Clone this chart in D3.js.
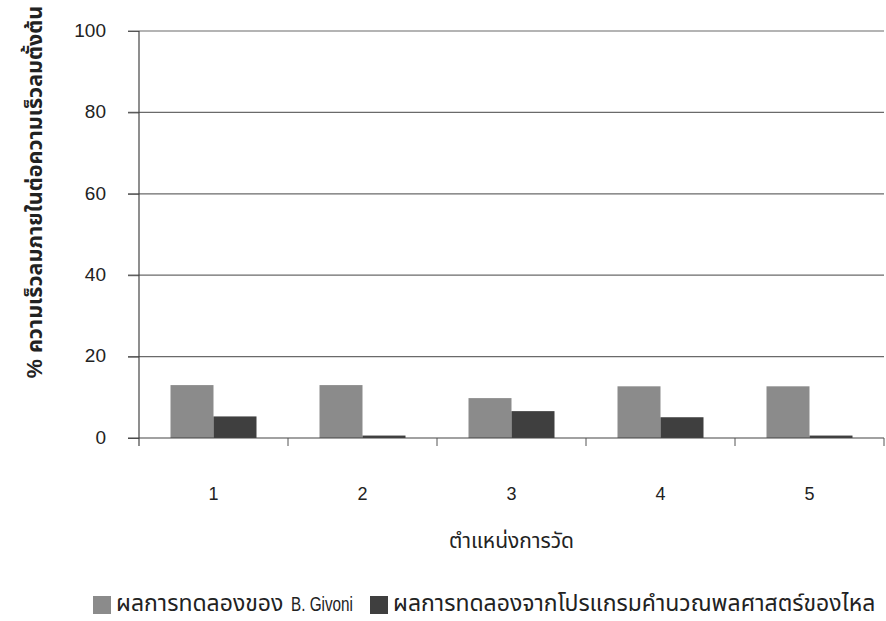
<!DOCTYPE html>
<html>
<head>
<meta charset="utf-8">
<script src="https://cdn.jsdelivr.net/npm/d3@7"></script>
<style>
  html, body { margin: 0; padding: 0; background: #fff; }
  svg { display: block; font-family: "Liberation Sans", Arial, "Noto Sans Thai", "Noto Sans", sans-serif; }
</style>
</head>
<body>
<svg id="chart" width="886" height="621"></svg>
<script>
// Measurement positions along the x axis
const positions = ["1", "2", "3", "4", "5"];
// Series names (legend): Thai part and Latin part of each label
const seriesNames = [
  ["ผลการทดลองของ", "B. Givoni"],
  ["ผลการทดลองจากโปรแกรมคำนวณพลศาสตร์ของไหล", ""]
];
// % indoor wind speed relative to initial wind speed
const givoni = [13, 13, 9.8, 12.7, 12.7];
const cfd = [5.3, 0.6, 6.6, 5.1, 0.6];
const yTicks = [0, 20, 40, 60, 80, 100];
const colors = ["#8b8b8b", "#3f3f3f"];

const svg = d3.select("#chart");
const margin = { left: 139, right: 2, top: 31, bottom: 183 };
const W = 886, H = 621;
const innerW = W - margin.left - margin.right;
const innerH = H - margin.top - margin.bottom;

const g = svg.append("g").attr("transform", `translate(${margin.left},${margin.top})`);

const x = d3.scaleBand().domain(positions).range([0, innerW]);
const groupW = 86;
const xs = d3.scaleBand().domain([0, 1]).range([0, groupW]);
const y = d3.scaleLinear().domain([0, 100]).range([innerH, 0]);

// horizontal gridlines
g.append("g").selectAll("line").data(yTicks.filter(d => d > 0)).join("line")
  .attr("x1", -11).attr("x2", innerW)
  .attr("y1", d => y(d)).attr("y2", d => y(d))
  .attr("stroke", "#6a6a6a").attr("stroke-width", 1.2);

// bars
const rows = positions.map((p, i) => ({ p, vals: [givoni[i], cfd[i]] }));
const grp = g.append("g").selectAll("g").data(rows).join("g")
  .attr("transform", d => `translate(${x(d.p) + (x.bandwidth() - groupW) / 2},0)`);
grp.selectAll("rect").data(d => d.vals.map((v, k) => ({ v, k }))).join("rect")
  .attr("x", d => xs(d.k)).attr("width", xs.bandwidth())
  .attr("y", d => y(d.v)).attr("height", d => y(0) - y(d.v))
  .attr("fill", d => colors[d.k]);

// y axis
const yAxis = d3.axisLeft(y).tickValues(yTicks).tickSize(11).tickPadding(22);
const ya = g.append("g").call(yAxis);
ya.select(".domain").remove();
ya.selectAll(".tick line").attr("stroke", "#555");
ya.selectAll("text").attr("font-size", 19).attr("dy", "0.28em").attr("fill", "#222");
g.append("line").attr("x1", 0).attr("x2", 0).attr("y1", 0).attr("y2", innerH + 8)
  .attr("stroke", "#444").attr("stroke-width", 1.2);

// x axis
g.append("line").attr("x1", -11).attr("x2", innerW).attr("y1", innerH).attr("y2", innerH)
  .attr("stroke", "#444").attr("stroke-width", 1.2);
g.append("g").selectAll("line").data(d3.range(1, positions.length + 1)).join("line")
  .attr("x1", i => i * x.bandwidth()).attr("x2", i => i * x.bandwidth())
  .attr("y1", innerH).attr("y2", innerH + 8)
  .attr("stroke", "#555");
g.append("g").selectAll("text").data(positions).join("text")
  .attr("x", d => x(d) + x.bandwidth() / 2).attr("y", innerH + 62)
  .attr("text-anchor", "middle").attr("font-size", 18).attr("fill", "#222")
  .text(d => d);

// axis titles
svg.append("text").attr("x", margin.left + innerW / 2).attr("y", 548)
  .attr("text-anchor", "middle").attr("font-size", 21).attr("fill", "#222")
  .text("ตำแหน่งการวัด");
svg.append("text").attr("transform", "translate(42,192) rotate(-90)")
  .attr("text-anchor", "middle").attr("font-size", 21.5).attr("font-weight", "bold").attr("fill", "#222")
  .text("% ความเร็วลมภายในต่อความเร็วลมตั้งต้น");

// legend: swatch, Thai label, then a condensed Latin label where present
const legend = svg.append("g").attr("transform", "translate(0,596)");
const legX = [93, 370];
seriesNames.forEach(([thai, latin], i) => {
  const lg = legend.append("g").attr("transform", `translate(${legX[i]},0)`);
  lg.append("rect").attr("width", 18).attr("height", 18).attr("fill", colors[i]);
  lg.append("text").attr("x", 23).attr("y", 15).attr("font-size", 23).attr("fill", "#222").text(thai);
  if (latin) {
    lg.append("text").attr("x", 198).attr("y", 15).attr("font-size", 19.5)
      .attr("textLength", 62).attr("lengthAdjust", "spacingAndGlyphs")
      .attr("fill", "#222").text(latin);
  }
});
</script>
</body>
</html>
